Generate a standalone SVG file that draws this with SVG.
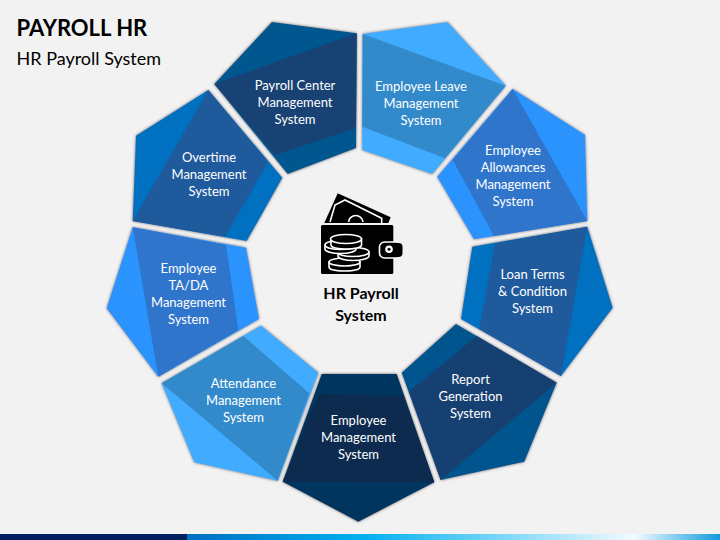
<svg xmlns="http://www.w3.org/2000/svg" width="720" height="540" viewBox="0 0 720 540">
<style>
text{font-family:"Lato","Open Sans",sans-serif;}
.l{font-size:13px;fill:#fff;text-anchor:middle;}
.o{filter:url(#s);}
.cc{fill:#000;stroke:#fff;stroke-width:1.6;}
</style>
<defs>
<filter id="s" x="-10%" y="-10%" width="120%" height="120%"><feDropShadow dx="0" dy="0" stdDeviation="1.4" flood-color="#666" flood-opacity="1"/></filter>
<linearGradient id="b" x1="0" x2="1" y1="0" y2="0"><stop offset="0" stop-color="#0070c0"/><stop offset="0.33" stop-color="#00b0f0"/><stop offset="0.84" stop-color="#f2fbff"/><stop offset="1" stop-color="#0f9bdc"/></linearGradient>
</defs>
<rect width="720" height="540" fill="#f2f2f2"/>
<text x="16.500" y="36" font-size="22" font-weight="700" fill="#000">PAYROLL HR</text>
<text x="16.500" y="65" font-size="18" fill="#000">HR Payroll System</text>
<g id="payroll-center">
<polygon class="o" fill="#00568f" points="272,22 356.700,33.300 356,148 287.700,174 214.300,84"/>
<polygon fill="#174273" points="214.300,84 356.700,33.300 356,128.300 275,155"/>
<text class="l" x="295" y="90">Payroll Center</text><text class="l" x="295" y="107">Management</text><text class="l" x="295" y="124">System</text>
</g>
<g id="employee-leave">
<polygon class="o" fill="#3fabff" points="362.700,34 447.700,22.300 505.700,85.700 432.300,174 362.300,150"/>
<polygon fill="#338acb" points="362.700,34 505.700,85.700 445,158.300 362.300,126.700"/>
<text class="l" x="421" y="91">Employee Leave</text><text class="l" x="421" y="108">Management</text><text class="l" x="421" y="125">System</text>
</g>
<g id="employee-allowances">
<polygon class="o" fill="#2b93fd" points="512.700,89 585,135 587.300,221 474,239.300 437.300,176.700"/>
<polygon fill="#2f75cb" points="512.700,89 587.300,221 494,236 452.700,160"/>
<text class="l" x="513" y="155">Employee</text><text class="l" x="513" y="172">Allowances</text><text class="l" x="513" y="189">Management</text><text class="l" x="513" y="206">System</text>
</g>
<g id="loan-terms">
<polygon class="o" fill="#0070c0" points="587.300,226.700 612.700,307.700 561,376 461,319 472.300,246.700"/>
<polygon fill="#1f5a9c" points="587.300,226.700 561,376 479.300,329 495,243.300"/>
<text class="l" x="532.500" y="279">Loan Terms</text><text class="l" x="532.500" y="296">&amp; Condition</text><text class="l" x="532.500" y="313">System</text>
</g>
<g id="report-generation">
<polygon class="o" fill="#02558f" points="456,324 556.700,382.700 524.300,461.700 440.700,480 401.700,372.700"/>
<polygon fill="#174072" points="476.700,336 556.700,382.700 440.700,480 409,391.700"/>
<text class="l" x="470.500" y="384">Report</text><text class="l" x="470.500" y="401">Generation</text><text class="l" x="470.500" y="418">System</text>
</g>
<g id="employee-management">
<polygon class="o" fill="#033660" points="321.700,374 396.700,374 434.300,482.300 358.300,521.700 282.700,481.700"/>
<polygon fill="#0c2b4e" points="319.300,394 403.300,396 434.300,482.300 282.700,481.700"/>
<text class="l" x="358.500" y="425">Employee</text><text class="l" x="358.500" y="442">Management</text><text class="l" x="358.500" y="459">System</text>
</g>
<g id="attendance">
<polygon class="o" fill="#3fabff" points="261,325.700 318.300,372.700 277.700,480.700 194.300,462.300 161.700,383.300"/>
<polygon fill="#338acb" points="243.300,336 309.300,393.300 277.700,480.700 161.700,383.300"/>
<text class="l" x="243.500" y="388">Attendance</text><text class="l" x="243.500" y="405">Management</text><text class="l" x="243.500" y="422">System</text>
</g>
<g id="employee-tada">
<polygon class="o" fill="#2b93fd" points="132.700,227.300 246,247.700 259,319 158.300,376.700 106.700,308.300"/>
<polygon fill="#2f75cb" points="132.700,227.300 226,245 238.300,330 158.300,376.700"/>
<text class="l" x="188.500" y="273">Employee</text><text class="l" x="188.500" y="290">TA/DA</text><text class="l" x="188.500" y="307">Management</text><text class="l" x="188.500" y="324">System</text>
</g>
<g id="overtime">
<polygon class="o" fill="#0070c0" points="208.300,90 282.300,177.700 246.700,241 132.700,221 136,135.700"/>
<polygon fill="#1f5a9c" points="208.300,90 268.300,162.300 225,236.700 132.700,221"/>
<text class="l" x="209" y="162">Overtime</text><text class="l" x="209" y="179">Management</text><text class="l" x="209" y="196">System</text>
</g>
<g id="center">
<polygon fill="#000" points="337.700,193.300 390.700,217.300 388.300,223 324.300,223"/>
<path d="M330,222 L335,205 L345,200 L381.700,218.300 L381.700,223 M348.500,222 A7.300,7.300 0 0 1 363,222" fill="none" stroke="#fff" stroke-width="1.600"/>
<rect x="321" y="225" width="72.300" height="49" rx="1.500" fill="#000"/>
<rect x="379.500" y="242" width="22" height="16" rx="5" fill="#000" stroke="#fff" stroke-width="1.600"/>
<rect x="393" y="243" width="9.500" height="14" rx="4" fill="#000"/>
<circle cx="389" cy="249.300" r="3.800" fill="#fff"/><circle cx="389" cy="249.300" r="1.500" fill="#000"/>
<path class="cc" d="M329,262 V267 C329,269.500 336,271 344.500,271 C353,271 360,269.500 360,267 V262 Z"/>
<ellipse class="cc" cx="344.500" cy="262" rx="15.500" ry="4"/>
<path class="cc" d="M338,252 V256 C338,258.500 345,260.500 353,260.500 C361,260.500 369,258.500 369,256 V252 Z"/>
<ellipse class="cc" cx="353" cy="252" rx="16" ry="4.500"/>
<path class="cc" d="M325,245 V249 C325,251.500 332,253.500 340.500,253.500 C349,253.500 356,251.500 356,249 V245 Z"/>
<ellipse class="cc" cx="340.500" cy="245" rx="15.500" ry="4.500"/>
<path class="cc" d="M331,239 V245 C331,247.500 338,249 346,249 C354,249 361.500,247.500 361.500,245 V239 Z"/>
<ellipse class="cc" cx="346" cy="239" rx="15.500" ry="4.500"/>
<text x="361" y="299" font-size="16" font-weight="700" fill="#000" text-anchor="middle">HR Payroll</text>
<text x="361" y="321" font-size="16" font-weight="700" fill="#000" text-anchor="middle">System</text>
</g>
<rect x="0" y="534" width="187" height="6" fill="#002060"/>
<rect x="187" y="534" width="533" height="6" fill="url(#b)"/>
</svg>
